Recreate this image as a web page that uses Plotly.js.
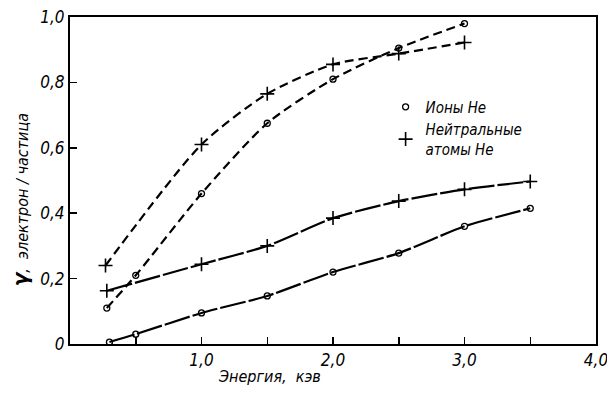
<!DOCTYPE html>
<html><head><meta charset="utf-8">
<script src="https://cdn.plot.ly/plotly-3.0.1.min.js"></script>
<style>body{margin:0;background:#fff}#c{width:607px;height:393px}</style>
</head><body><div id="c"></div>
<script>
// Data
const ionsHighX = [0.28, 0.5, 1.0, 1.5, 2.0, 2.5, 3.0];
const ionsHighY = [0.11, 0.21, 0.46, 0.675, 0.81, 0.905, 0.98];
const neutHighX = [0.27, 1.0, 1.5, 2.0, 2.5, 3.0];
const neutHighY = [0.24, 0.61, 0.765, 0.855, 0.888, 0.922];
const neutLowX = [0.28, 1.0, 1.5, 2.0, 2.5, 3.0, 3.5];
const neutLowY = [0.163, 0.244, 0.30, 0.385, 0.437, 0.473, 0.497];
const ionsLowX = [0.3, 0.5, 1.0, 1.5, 2.0, 2.5, 3.0, 3.5];
const ionsLowY = [0.006, 0.03, 0.095, 0.147, 0.22, 0.278, 0.36, 0.415];
const xTickVals = [1, 2, 3, 4];
const xTickText = ['1,0', '2,0', '3,0', '4,0'];
const yTickVals = [0, 0.2, 0.4, 0.6, 0.8, 1.0];
const yTickText = ['0', '0,2', '0,4', '0,6', '0,8', '1,0'];
const legendNames = ['Ионы Не', 'Нейтральные<br>атомы Не'];

const circ = {symbol: 'circle-open', size: 6, color: '#000', line: {width: 1.3, color: '#000'}};
const plus = {symbol: 'cross-thin-open', size: 10, color: '#000', line: {width: 1.6, color: '#000'}};
const dashLine = {color: '#000', width: 2.2, dash: '9px,5px', shape: 'spline', smoothing: 0.7};
const solidLine = {color: '#000', width: 2.2, dash: '26px,3px', shape: 'spline', smoothing: 0.6};

const traces = [
  {x: ionsHighX, y: ionsHighY, mode: 'lines+markers', line: dashLine, marker: circ, showlegend: false},
  {x: neutHighX, y: neutHighY, mode: 'lines+markers', line: dashLine, marker: plus, showlegend: false},
  {x: neutLowX, y: neutLowY, mode: 'lines+markers', line: solidLine, marker: plus, showlegend: false},
  {x: ionsLowX, y: ionsLowY, mode: 'lines+markers', line: solidLine, marker: circ, showlegend: false},
  {x: [null], y: [null], mode: 'markers', marker: circ, name: legendNames[0]},
  {x: [null], y: [null], mode: 'markers', marker: plus, name: legendNames[1]}
];

const fnt = {family: 'DejaVu Sans Condensed, DejaVu Sans', style: 'italic', color: '#000'};

const layout = {
  width: 607, height: 393,
  margin: {l: 70, r: 11, t: 17, b: 49},
  paper_bgcolor: '#fff', plot_bgcolor: '#fff',
  showlegend: true,
  legend: {x: 0.6, y: 0.775, xanchor: 'left', yanchor: 'top', bgcolor: 'rgba(0,0,0,0)',
    font: Object.assign({}, fnt, {size: 15}), itemwidth: 30, tracegroupgap: 0},
  xaxis: {range: [0, 4.0], tickvals: xTickVals, ticktext: xTickText, ticks: 'inside', ticklen: 7,
    tickwidth: 1.5, tickcolor: '#000', showgrid: false, zeroline: false, showline: true,
    linecolor: '#000', linewidth: 2, mirror: true, ticklabeloverflow: 'allow',
    tickfont: Object.assign({}, fnt, {size: 17}),
    minor: {dtick: 0.5, ticks: 'inside', ticklen: 7, tickwidth: 1.5, tickcolor: '#000', showgrid: false}},
  yaxis: {range: [0, 1.0], tickvals: yTickVals, ticktext: yTickText, ticks: 'inside', ticklen: 7,
    tickwidth: 1.5, tickcolor: '#000', showgrid: false, zeroline: false, showline: true,
    linecolor: '#000', linewidth: 2, mirror: true, tickfont: Object.assign({}, fnt, {size: 17})},
  annotations: [
    {xref: 'paper', yref: 'paper', x: 0.38, y: -0.1, xanchor: 'center', yanchor: 'middle',
     text: 'Энергия,  кэв', showarrow: false, font: Object.assign({}, fnt, {size: 16})},
    {xref: 'paper', yref: 'paper', x: -0.095, y: 0.44, xanchor: 'center', yanchor: 'middle',
     textangle: -90, text: '<b style="font-size:22px">γ</b>,  электрон / частица', showarrow: false,
     font: Object.assign({}, fnt, {size: 16})}
  ]
};

Plotly.newPlot('c', traces, layout, {displayModeBar: false, staticPlot: true});
</script></body></html>
